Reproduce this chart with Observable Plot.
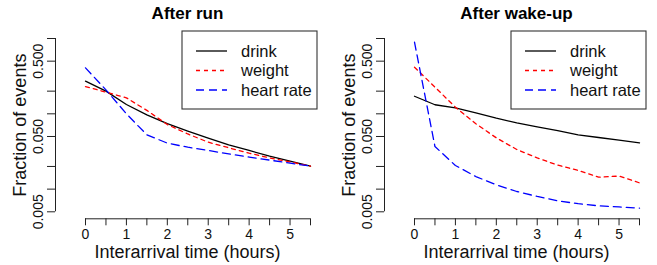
<!DOCTYPE html>
<html><head><meta charset="utf-8">
<script src="https://cdn.jsdelivr.net/npm/d3@7"></script>
<script src="https://cdn.jsdelivr.net/npm/@observablehq/plot@0.6"></script>
<style>
body{margin:0;background:#fff;}
#wrap{position:relative;width:657px;height:265px;display:flex;flex-direction:row;}
#wrap svg{display:block;}
</style></head><body><div id="wrap"></div>
<script>
// ---- data ----
const hours = [0, 0.5, 1, 1.5, 2, 2.5, 3, 3.5, 4, 4.5, 5, 5.5];
const seriesNames = ["drink", "weight", "heart rate"];
const panelTitles = ["After run", "After wake-up"];

const runDrink  = [0.271, 0.200, 0.133, 0.097, 0.074, 0.059, 0.0475, 0.0387, 0.0326, 0.0274, 0.0236, 0.0202];
const runWeight = [0.230, 0.194, 0.163, 0.111, 0.072, 0.054, 0.042, 0.0354, 0.030, 0.026, 0.023, 0.0202];
const runHeart  = [0.408, 0.208, 0.100, 0.0526, 0.0408, 0.036, 0.0326, 0.0294, 0.0266, 0.0243, 0.0221, 0.0202];

const wakeDrink  = [0.171, 0.132, 0.120, 0.103, 0.0875, 0.0759, 0.0672, 0.060, 0.0526, 0.0485, 0.0447, 0.0412];
const wakeWeight = [0.416, 0.226, 0.1225, 0.0737, 0.048, 0.0336, 0.026, 0.0208, 0.0177, 0.0144, 0.0149, 0.0121];
const wakeHeart  = [0.894, 0.0368, 0.0206, 0.0147, 0.0114, 0.0093, 0.0080, 0.0070, 0.0064, 0.0060, 0.0058, 0.0056];

const xTicks = [0, 0.5, 1, 1.5, 2, 2.5, 3, 3.5, 4, 4.5, 5, 5.5];
const xLabels = [0, 1, 2, 3, 4, 5];
const yTicks = [0.005, 0.01, 0.02, 0.05, 0.1, 0.2, 0.5, 1];
const yLabels = [0.005, 0.05, 0.5];
const xTitle = "Interarrival time (hours)";
const yTitle = "Fraction of events";

// ---- styles ----
const styles = [
  {stroke: "#000000", dash: null},
  {stroke: "#ff0000", dash: "4,4"},
  {stroke: "#0000ff", dash: "8,5"}
];
const FONT = "'Liberation Sans', Arial, Helvetica, sans-serif";
const AX = "#222";

const panels = [
  {title: panelTitles[0], series: [runDrink, runWeight, runHeart], width: 329, marginRight: 19},
  {title: panelTitles[1], series: [wakeDrink, wakeWeight, wakeHeart], width: 328, marginRight: 18}
];

const wrap = document.getElementById("wrap");

panels.forEach(p => {
  const lineMarks = p.series.map((vals, i) =>
    Plot.line(hours.map((h, j) => ({hour: h, value: vals[j], series: seriesNames[i]})), {
      x: "hour", y: "value", stroke: styles[i].stroke,
      strokeWidth: 1.3, strokeDasharray: styles[i].dash || undefined
    })
  );
  const chart = Plot.plot({
    width: p.width,
    height: 265,
    marginLeft: 85,
    marginRight: p.marginRight,
    marginTop: 38,
    marginBottom: 53.7,
    style: {fontFamily: FONT, fontSize: "14px", background: "white", overflow: "visible", color: "#111"},
    x: {domain: [0, 5.5]},
    y: {type: "log", domain: [0.005, 1]},
    marks: [
      // y axis
      Plot.ruleX([0], {y1: 0.005, y2: 1, dx: -30, stroke: AX}),
      Plot.axisY({ticks: yTicks, tickSize: 8, dx: -30, tickFormat: () => "", label: null, stroke: AX}),
      Plot.text(yLabels, {y: d => d, text: d => d3.format(".3f")(d), frameAnchor: "left", dx: -47,
        rotate: -90, textAnchor: "middle", fontSize: 14, fill: "#111"}),
      // x axis
      Plot.ruleY([0.005], {x1: 0, x2: 5.5, dy: 7, stroke: AX}),
      Plot.axisX({ticks: xTicks, tickSize: 7, dy: 7, tickPadding: 3, label: null, stroke: AX,
        tickFormat: d => xLabels.includes(d) ? String(d) : "", fontSize: 14}),
      // axis titles
      Plot.text([xTitle], {frameAnchor: "bottom", lineAnchor: "middle", dx: -10.5, dy: 40.5, fontSize: 18, fill: "#111"}),
      Plot.text([yTitle], {frameAnchor: "left", dx: -65, rotate: -90, textAnchor: "middle", fontSize: 18, fill: "#111"}),
      // panel title
      Plot.text([p.title], {frameAnchor: "top", lineAnchor: "middle", dx: -10.5, dy: -25, fontSize: 17, fontWeight: "bold", fill: "#000"}),
      ...lineMarks
    ]
  });
  // legend (top-right box)
  const svg = d3.select(chart);
  const g = svg.append("g").attr("font-family", FONT).attr("font-size", 16.5).attr("text-anchor", "start");
  g.append("rect").attr("x", 182).attr("y", 31).attr("width", 135).attr("height", 78)
    .attr("fill", "white").attr("stroke", "#333").attr("stroke-width", 1.1);
  seriesNames.forEach((name, i) => {
    const y = 51 + i * 19.5;
    g.append("line").attr("x1", 196).attr("x2", 227).attr("y1", y).attr("y2", y)
      .attr("stroke", styles[i].stroke).attr("stroke-width", 1.3)
      .attr("stroke-dasharray", styles[i].dash);
    g.append("text").attr("x", 241).attr("y", y).attr("dy", "0.35em").attr("text-anchor", "start")
      .attr("fill", "#111").text(name);
  });
  wrap.appendChild(chart);
});
</script>
</body></html>
